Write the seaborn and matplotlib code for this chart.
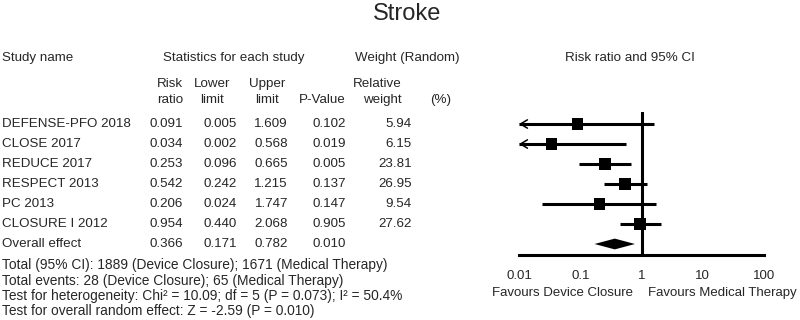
import numpy as np
import pandas as pd
import matplotlib
matplotlib.use("Agg")
import matplotlib.pyplot as plt
import matplotlib.transforms as mtransforms
import seaborn as sns

# data
studies = ["DEFENSE-PFO 2018", "CLOSE 2017", "REDUCE 2017", "RESPECT 2013",
           "PC 2013", "CLOSURE I 2012"]
risk_ratio = [0.091, 0.034, 0.253, 0.542, 0.206, 0.954]
lower = [0.005, 0.002, 0.096, 0.242, 0.024, 0.440]
upper = [1.609, 0.568, 0.665, 1.215, 1.747, 2.068]
p_value = [0.102, 0.019, 0.005, 0.137, 0.147, 0.905]
weight = [5.94, 6.15, 23.81, 26.95, 9.54, 27.62]
overall = {"name": "Overall effect", "rr": 0.366, "lo": 0.171, "hi": 0.782, "p": 0.010}
x_ticks = [0.01, 0.1, 1, 10, 100]
x_ticklabels = ["0.01", "0.1", "1", "10", "100"]
footer = [
    "Total (95% CI): 1889 (Device Closure); 1671 (Medical Therapy)",
    "Total events: 28 (Device Closure); 65 (Medical Therapy)",
    "Test for heterogeneity: Chi\u00b2 = 10.09; df = 5 (P = 0.073); I\u00b2 = 50.4%",
    "Test for overall random effect: Z = -2.59 (P = 0.010)",
]

df = pd.DataFrame({"study": studies, "rr": risk_ratio, "lo": lower, "hi": upper,
                   "p": p_value, "w": weight})
df["row"] = np.arange(len(df))

sns.set_style("white")
plt.rcParams["font.family"] = ["Liberation Sans", "DejaVu Sans"]
FS = 9.6

W, H = 800, 320
fig = plt.figure(figsize=(8, 3.2), dpi=100)

def fx(x):
    return x / W

def fy(y):
    return 1 - y / H

# forest plot axes: x 0.01..100 spans px 519..764, rows 20 px apart
ax = fig.add_axes([fx(519), fy(255), 245 / W, 143 / H])
ax.set_xscale("log")
ax.set_xlim(0.01, 100)
ax.set_ylim(6.55, -0.6)
xmin = 0.01

for _, r in df.iterrows():
    lo = max(r["lo"], xmin)
    ax.plot([lo, r["hi"]], [r["row"], r["row"]], color="black", lw=2.2,
            solid_capstyle="butt", clip_on=False)
    if r["lo"] < xmin:
        ax.annotate("", xy=(xmin, r["row"]), xytext=(xmin * 1.4, r["row"]),
                    arrowprops=dict(arrowstyle="->,head_length=0.5,head_width=0.3",
                                    color="black", lw=1.1, shrinkA=0, shrinkB=0),
                    annotation_clip=False)

sns.scatterplot(data=df, x="rr", y="row", size="w", sizes=(64, 80), marker="s",
                color="black", edgecolor="black", linewidth=0, legend=False,
                ax=ax, zorder=3, clip_on=False)

orow = len(df)
ax.fill([overall["lo"], overall["rr"], overall["hi"], overall["rr"]],
        [orow, orow - 0.27, orow, orow + 0.27], color="black", lw=0)

ax.axvline(1, color="black", lw=2.2)
for s in ["top", "left", "right"]:
    ax.spines[s].set_visible(False)
ax.spines["bottom"].set_linewidth(2.2)
ax.spines["bottom"].set_color("black")
ax.set_xticks(x_ticks)
ax.set_xticklabels(x_ticklabels)
ax.minorticks_off()
ax.tick_params(axis="x", length=0, pad=11, labelsize=9.5)
ax.set_yticks([])
ax.set_xlabel("")
ax.set_ylabel("")

# table text: x in figure pixels, y in the forest rows
trans = mtransforms.blended_transform_factory(fig.transFigure, ax.transData)
cols = [("rr", 183, "{:.3f}"), ("lo", 237, "{:.3f}"), ("hi", 288, "{:.3f}"),
        ("p", 346, "{:.3f}"), ("w", 412, "{:.2f}")]
for _, r in df.iterrows():
    ax.text(fx(2), r["row"], r["study"], transform=trans, ha="left", va="center", fontsize=FS)
    for key, xr, fmt in cols:
        ax.text(fx(xr), r["row"], fmt.format(r[key]), transform=trans, ha="right",
                va="center", fontsize=FS)
ax.text(fx(2), orow, overall["name"], transform=trans, ha="left", va="center", fontsize=FS)
for key, xr in [("rr", 183), ("lo", 237), ("hi", 288), ("p", 346)]:
    ax.text(fx(xr), orow, "{:.3f}".format(overall[key]), transform=trans, ha="right",
            va="center", fontsize=FS)

# headers
fig.text(fx(407), fy(14), "Stroke", ha="center", va="center", fontsize=17)
fig.text(fx(2), fy(58), "Study name", ha="left", va="center", fontsize=FS)
fig.text(fx(234), fy(58), "Statistics for each study", ha="center", va="center", fontsize=FS)
fig.text(fx(355), fy(58), "Weight (Random)", ha="left", va="center", fontsize=FS)
fig.text(fx(630), fy(58), "Risk ratio and 95% CI", ha="center", va="center", fontsize=FS)
fig.text(fx(183), fy(84), "Risk", ha="right", va="center", fontsize=FS)
fig.text(fx(183), fy(100), "ratio", ha="right", va="center", fontsize=FS)
fig.text(fx(212), fy(84), "Lower", ha="center", va="center", fontsize=FS)
fig.text(fx(212), fy(100), "limit", ha="center", va="center", fontsize=FS)
fig.text(fx(267), fy(84), "Upper", ha="center", va="center", fontsize=FS)
fig.text(fx(267), fy(100), "limit", ha="center", va="center", fontsize=FS)
fig.text(fx(346), fy(100), "P-Value", ha="right", va="center", fontsize=FS)
fig.text(fx(402), fy(84), "Relative", ha="right", va="center", fontsize=FS)
fig.text(fx(402), fy(100), "weight", ha="right", va="center", fontsize=FS)
fig.text(fx(430), fy(100), "(%)", ha="left", va="center", fontsize=FS)

for i, line in enumerate(footer):
    fig.text(fx(2), fy(265 + 15.5 * i), line, ha="left", va="center", fontsize=9.9)

fig.text(fx(563), fy(293), "Favours Device Closure", ha="center", va="center", fontsize=9.5)
fig.text(fx(722), fy(293), "Favours Medical Therapy", ha="center", va="center", fontsize=9.5)

fig.savefig("out.png", dpi=100)
